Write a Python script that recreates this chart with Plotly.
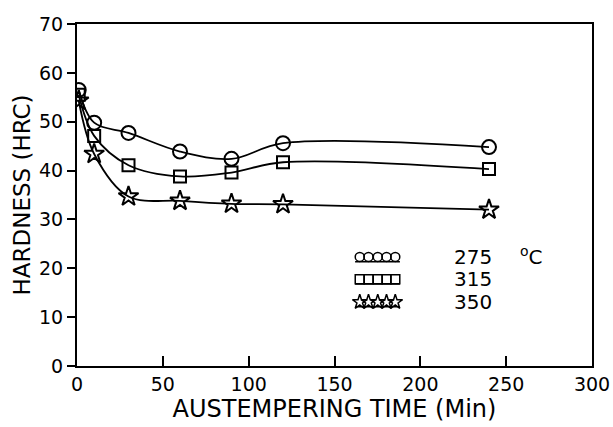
import plotly.graph_objects as go

time_min = [1, 10, 30, 60, 90, 120, 240]
hrc_275 = [56.5, 49.8, 47.7, 43.9, 42.4, 45.6, 44.8]
hrc_315 = [55.5, 47.1, 41.1, 38.8, 39.6, 41.7, 40.3]
hrc_350 = [54.3, 43.4, 34.7, 33.8, 33.2, 33.1, 32.0]
series_names = ["275", "315", "350"]
x_ticks = [0, 50, 100, 150, 200, 250, 300]
y_ticks = [0, 10, 20, 30, 40, 50, 60, 70]

FONT = "DejaVu Sans"
fig = go.Figure()
symbols = ["circle-open", "square-open", "star-open"]
sizes = [14, 12, 15]
leg_sizes = [9, 9, 11]
for ys, sym, sz, nm in zip([hrc_275, hrc_315, hrc_350], symbols, sizes, series_names):
    fig.add_trace(go.Scatter(
        x=time_min, y=ys, mode="lines+markers", name=nm,
        line=dict(color="black", width=1.8, shape="spline", smoothing=1.0),
        marker=dict(symbol=sym, size=sz, color="black", line=dict(color="black", width=2)),
        showlegend=False,
    ))

# legend drawn on an overlay axis (0..1 paper-like units)
leg_rows = [0.319, 0.254, 0.187]
leg_x = [0.549, 0.566, 0.584, 0.601, 0.618]
for yv, sym, lsz, nm in zip(leg_rows, symbols, leg_sizes, series_names):
    fig.add_trace(go.Scatter(
        x=leg_x, y=[yv] * len(leg_x), xaxis="x2", yaxis="y2", mode="markers",
        marker=dict(symbol=sym, size=lsz, color="black", line=dict(color="black", width=1.5)),
        showlegend=False, hoverinfo="skip",
    ))
    fig.add_shape(type="line", x0=0.540, x1=0.627, y0=yv - 0.014, y1=yv - 0.014,
                  xref="paper", yref="paper", line=dict(color="black", width=1.5))
    fig.add_annotation(x=0.728, y=yv, xref="paper", yref="paper", text=nm, showarrow=False,
                       font=dict(family=FONT, size=20, color="black"), xanchor="left", yanchor="middle")
fig.add_annotation(x=0.857, y=0.322, xref="paper", yref="paper", text="<sup>o</sup>C", showarrow=False,
                   font=dict(family=FONT, size=20, color="black"), xanchor="left", yanchor="middle")

fig.update_layout(
    width=613, height=427,
    margin=dict(l=77, r=21, t=24, b=61),
    paper_bgcolor="white", plot_bgcolor="white",
    font=dict(family=FONT, color="black", size=18),
    xaxis=dict(range=[0, 300], tickvals=x_ticks, ticks="inside", ticklen=10, tickwidth=2,
               tickcolor="black", showline=True, linecolor="black", linewidth=2, mirror=True,
               showgrid=False, zeroline=False, automargin=False,
               title=dict(text="AUSTEMPERING TIME (Min)", font=dict(size=24), standoff=2),
               tickfont=dict(size=19)),
    yaxis=dict(range=[0, 70], tickvals=y_ticks, ticks="outside", ticklen=8, tickwidth=2,
               tickcolor="black", showline=True, linecolor="black", linewidth=2, mirror=True,
               showgrid=False, zeroline=False, automargin=False,
               title=dict(text="HARDNESS (HRC)", font=dict(size=23), standoff=2),
               tickfont=dict(size=19)),
    xaxis2=dict(range=[0, 1], overlaying="x", visible=False, fixedrange=True),
    yaxis2=dict(range=[0, 1], overlaying="y", visible=False, fixedrange=True),
)
fig.write_html("out.html", config={"displayModeBar": False},
               post_script="document.body.style.margin='0';document.body.style.overflow='hidden';")
